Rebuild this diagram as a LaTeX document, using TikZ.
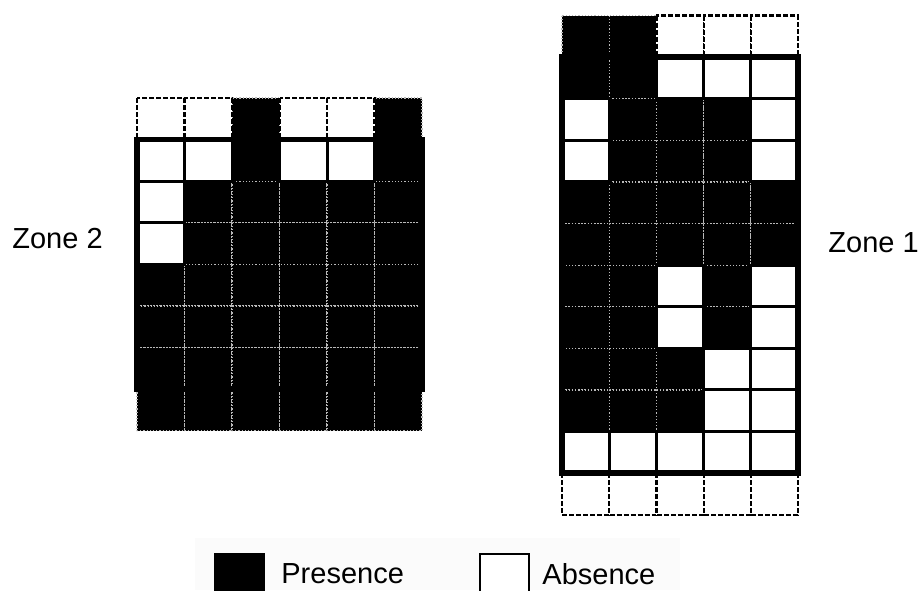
\documentclass[tikz,border=0pt]{standalone}
\usepackage{fontspec}
\setmainfont{Liberation Sans}
\usepackage{tikz}
\tikzset{
  inner0/.style={fill=white, draw=black, line width=1.5pt},
  inner1/.style={fill=black, draw=gray!55, densely dotted, line width=0.6pt},
  outer0/.style={fill=white, draw=black, line width=1.1pt, dash pattern=on 2.5pt off 1pt},
  outer1/.style={fill=black, draw=gray!55, densely dotted, line width=0.6pt},
  zoneframe/.style={draw=black, line width=2.8pt},
  zonelabel/.style={font=\fontsize{14.5}{17}\selectfont, inner sep=0pt, anchor=west},
  keybox/.style={rectangle, minimum width=24.5pt, minimum height=24.5pt, inner sep=0pt, draw=black, line width=0.7pt},
  keytext/.style={font=\fontsize{14.5}{17}\selectfont, inner sep=0pt, anchor=west}
}

\begin{document}
\begin{tikzpicture}[x=0.5pt, y=-0.5pt]
\useasboundingbox (0,0) rectangle (919,590);

% Zone 2: 6 columns, 8 rows (first and last row dashed)
\foreach \pass in {1,0}
  \foreach \cells [count=\r from 0] in {{0,0,1,0,0,1},{0,0,1,0,0,1},{0,1,1,1,1,1},{0,1,1,1,1,1},{1,1,1,1,1,1},{1,1,1,1,1,1},{1,1,1,1,1,1},{1,1,1,1,1,1}}
    \foreach \v [count=\c from 0] in \cells {
      \ifnum\v=\pass\relax
        \ifnum\r=0\relax \def\kind{outer}\else\ifnum\r=7\relax \def\kind{outer}\else\def\kind{inner}\fi\fi
        \draw[\kind\v] ({137+\c*47.5},{98+\r*41.6}) rectangle ++(47.5,41.6);
      \fi
    }
\draw[zoneframe] (137,139.6) rectangle (422,389.2);
\node[zonelabel] (zone2) at (12,239) {Zone 2};

% Zone 1: 5 columns, 12 rows (first and last row dashed)
\foreach \pass in {1,0}
  \foreach \cells [count=\r from 0] in {{1,1,0,0,0},{1,1,0,0,0},{0,1,1,1,0},{0,1,1,1,0},{1,1,1,1,1},{1,1,1,1,1},{1,1,0,1,0},{1,1,0,1,0},{1,1,1,0,0},{1,1,1,0,0},{0,0,0,0,0},{0,0,0,0,0}}
    \foreach \v [count=\c from 0] in \cells {
      \ifnum\v=\pass\relax
        \ifnum\r=0\relax \def\kind{outer}\else\ifnum\r=11\relax \def\kind{outer}\else\def\kind{inner}\fi\fi
        \draw[\kind\v] ({562+\c*47.2},{15.5+\r*41.6}) rectangle ++(47.2,41.6);
      \fi
    }
\draw[zoneframe] (562,57.1) rectangle (798,473.1);
\node[zonelabel] (zone1) at (828,243) {Zone 1};

% Legend
\fill[black!1.5] (195,538) rectangle (680,590);
\node[keybox, fill=black] (presbox) at (239.5,578.5) {};
\node[keytext] (prestext) at (281,574) {Presence};
\node[keybox, fill=white] (absbox) at (504.5,578.5) {};
\node[keytext] (abstext) at (542,574) {Absence};
\end{tikzpicture}
\end{document}
